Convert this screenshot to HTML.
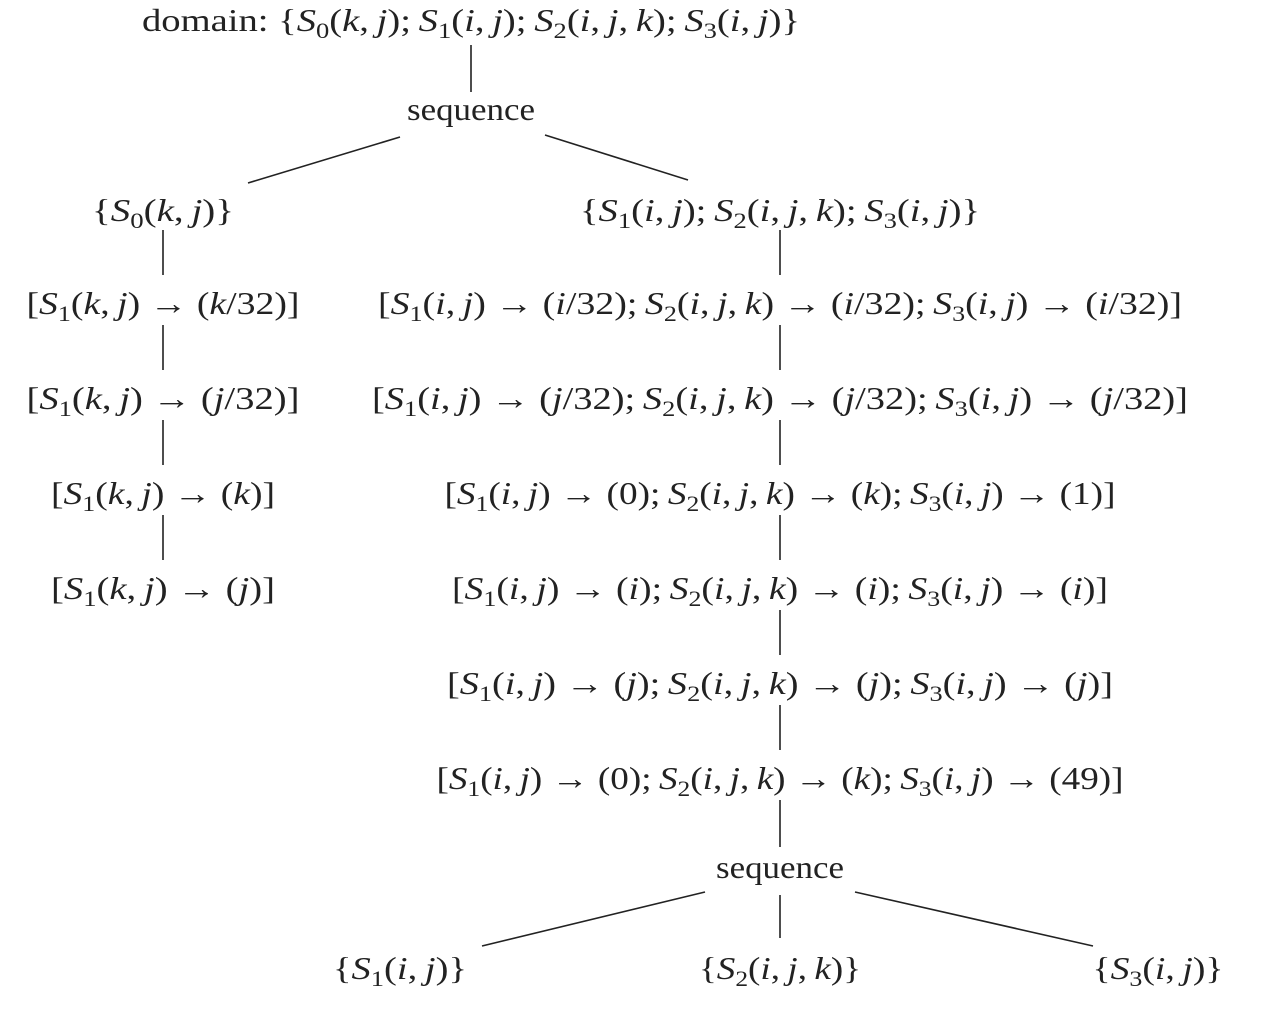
<!DOCTYPE html>
<html><head><meta charset="utf-8"><style>
html,body{margin:0;padding:0;background:#fff;}
svg{display:block;}
text{font-family:"Liberation Serif",serif;font-size:32px;fill:#222;}
line{stroke:#222;stroke-width:1.6;}
</style></head><body>
<svg id="s" width="1268" height="1012" viewBox="0 0 1268 1012" xmlns="http://www.w3.org/2000/svg">
<g id="edges">
<line x1="471" y1="45" x2="471" y2="92"/>
<line x1="400" y1="137" x2="248" y2="183"/>
<line x1="545" y1="135" x2="688" y2="180"/>
<line x1="163" y1="230" x2="163" y2="275"/>
<line x1="163" y1="325" x2="163" y2="370"/>
<line x1="163" y1="420" x2="163" y2="465"/>
<line x1="163" y1="515" x2="163" y2="560"/>
<line x1="780" y1="230" x2="780" y2="275"/>
<line x1="780" y1="325" x2="780" y2="370"/>
<line x1="780" y1="420" x2="780" y2="465"/>
<line x1="780" y1="515" x2="780" y2="560"/>
<line x1="780" y1="610" x2="780" y2="655"/>
<line x1="780" y1="705" x2="780" y2="750"/>
<line x1="780" y1="800" x2="780" y2="847"/>
<line x1="705" y1="892" x2="482" y2="946"/>
<line x1="855" y1="892" x2="1093" y2="946"/>
<line x1="780" y1="895" x2="780" y2="938"/>
</g>
</svg>
<script>
const nodes=[
 [471,31,"domain: {S_0(k,j);S_1(i,j);S_2(i,j,k);S_3(i,j)}",658,"domain-node"],
 [471,120,"sequence",128,"sequence-node-top"],
 [163,221,"{S_0(k,j)}",142,"s0-filter"],
 [780,221,"{S_1(i,j);S_2(i,j,k);S_3(i,j)}",400,"s123-filter"],
 [163,314,"[S_1(k,j) → (k/32)]",273,"left-band-1"],
 [163,409,"[S_1(k,j) → (j/32)]",273,"left-band-2"],
 [163,504,"[S_1(k,j) → (k)]",224,"left-band-3"],
 [163,599,"[S_1(k,j) → (j)]",224,"left-band-4"],
 [780,314,"[S_1(i,j) → (i/32);S_2(i,j,k) → (i/32);S_3(i,j) → (i/32)]",804,"right-band-1"],
 [780,409,"[S_1(i,j) → (j/32);S_2(i,j,k) → (j/32);S_3(i,j) → (j/32)]",816,"right-band-2"],
 [780,504,"[S_1(i,j) → (0);S_2(i,j,k) → (k);S_3(i,j) → (1)]",671,"right-band-3"],
 [780,599,"[S_1(i,j) → (i);S_2(i,j,k) → (i);S_3(i,j) → (i)]",656,"right-band-4"],
 [780,694,"[S_1(i,j) → (j);S_2(i,j,k) → (j);S_3(i,j) → (j)]",666,"right-band-5"],
 [780,789,"[S_1(i,j) → (0);S_2(i,j,k) → (k);S_3(i,j) → (49)]",687,"right-band-6"],
 [780,878,"sequence",128,"sequence-node-bottom"],
 [400,979,"{S_1(i,j)}",134,"s1-filter"],
 [780,979,"{S_2(i,j,k)}",162,"s2-filter"],
 [1158,979,"{S_3(i,j)}",131,"s3-filter"]
];
const NS="http://www.w3.org/2000/svg";
const svg=document.getElementById('s');
nodes.forEach(n=>{
 const t=document.createElementNS(NS,'text');
 
 
 t.setAttribute('x',n[0]);t.setAttribute('y',n[1]);
 t.setAttribute('text-anchor','middle');
 t.setAttribute('textLength',n[3]);
 t.setAttribute('lengthAdjust','spacingAndGlyphs');
 let s=n[2];
 const plainWord=(s==="sequence");
 let i=0;
 if(s.startsWith("domain: ")){
   const sp=document.createElementNS(NS,'tspan');sp.textContent="domain: ";t.appendChild(sp);i=8;
 }
 let shift=false;
 for(;i<s.length;i++){
   const c=s[i];
   const sp=document.createElementNS(NS,'tspan');
   if(shift){sp.setAttribute('dy','-7');shift=false;}
   if(c==='_'){
     i++;
     sp.textContent=s[i];
     sp.setAttribute('font-size','22');
     sp.setAttribute('dy','7');
     shift=true;
   } else {
     let txt=c===' '?'\u00a0':c;
     if(c===','||c===';') txt=c+'\u2009';
     sp.textContent=txt;
     if(!plainWord && /[a-zA-Z]/.test(c)) sp.setAttribute('font-style','italic');
   }
   t.appendChild(sp);
 }
 svg.appendChild(t);
});
</script>
</body></html>
